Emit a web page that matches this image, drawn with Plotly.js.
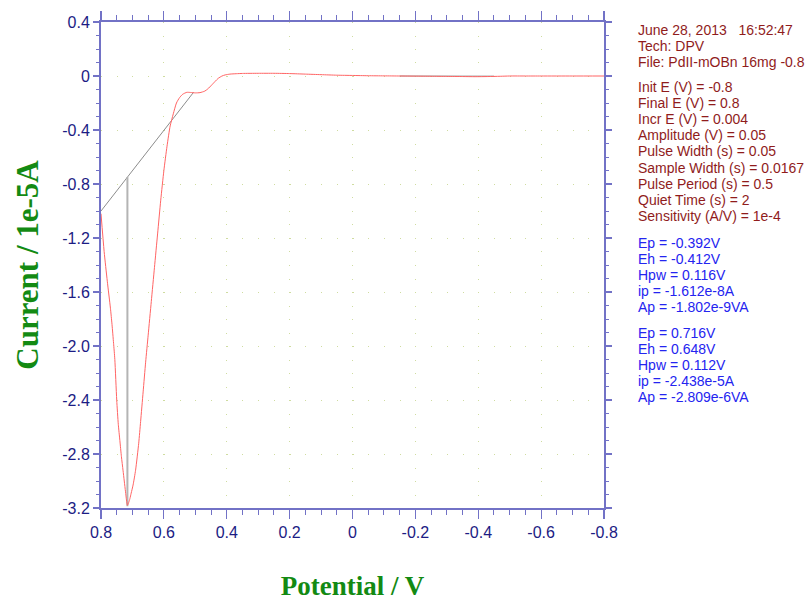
<!DOCTYPE html>
<html>
<head>
<meta charset="utf-8">
<script src="https://cdn.plot.ly/plotly-3.0.1.min.js"></script>
<style>html,body{margin:0;padding:0;background:#fff;}#chart{width:808px;height:601px;}</style>
</head>
<body>
<div id="chart"></div>
<script>
// ---- data ----
const potential = [0.800,0.790,0.780,0.770,0.765,0.760,0.756,0.750,0.745,0.740,0.735,0.730,0.726,0.722,0.719,0.716,0.712,0.708,0.704,0.698,0.690,0.680,0.674,0.666,0.658,0.650,0.640,0.630,0.620,0.610,0.600,0.590,0.580,0.570,0.560,0.550,0.540,0.527,0.515,0.500,0.485,0.470,0.460,0.448,0.437,0.427,0.415,0.405,0.390,0.370,0.350,0.300,0.250,0.200,0.150,0.100,0.050,0.000,-0.050,-0.100,-0.150,-0.200,-0.250,-0.300,-0.350,-0.390,-0.430,-0.470,-0.500,-0.550,-0.600,-0.700,-0.800];
const current = [-1.02,-1.30,-1.52,-1.72,-1.84,-1.98,-2.10,-2.40,-2.58,-2.70,-2.82,-2.92,-3.00,-3.08,-3.14,-3.18,-3.16,-3.13,-3.09,-3.03,-2.92,-2.72,-2.56,-2.34,-2.12,-1.92,-1.67,-1.42,-1.17,-0.92,-0.70,-0.52,-0.37,-0.28,-0.20,-0.16,-0.135,-0.121,-0.122,-0.125,-0.123,-0.112,-0.095,-0.067,-0.040,-0.017,0.000,0.008,0.014,0.017,0.019,0.020,0.020,0.018,0.014,0.010,0.006,0.004,0.002,0.001,0.000,-0.001,-0.002,-0.003,-0.004,-0.005,-0.004,-0.002,0.000,0.000,0.000,0.000,0.000];
// peak baseline and peak height marker (main peak)
const baseX = [0.800, 0.506];
const baseY = [-1.000, -0.122];
const peakX = [0.716, 0.716];
const peakY = [-0.749, -3.187];
// small peak baseline
const base2X = [-0.150, -0.450];
const base2Y = [0.000, -0.001];

const xTickVals = [0.8,0.6,0.4,0.2,0,-0.2,-0.4,-0.6,-0.8];
const xTickText = ['0.8','0.6','0.4','0.2','0','-0.2','-0.4','-0.6','-0.8'];
const yTickVals = [0.4,0,-0.4,-0.8,-1.2,-1.6,-2.0,-2.4,-2.8,-3.2];
const yTickText = ['0.4','0','-0.4','-0.8','-1.2','-1.6','-2.0','-2.4','-2.8','-3.2'];

const headerLines = ['June 28, 2013\u00a0\u00a0\u00a016:52:47','Tech: DPV','File: PdII-mOBn 16mg -0.8'];
const paramLines = ['Init E (V) = -0.8','Final E (V) = 0.8','Incr E (V) = 0.004','Amplitude (V) = 0.05','Pulse Width (s) = 0.05','Sample Width (s) = 0.0167','Pulse Period (s) = 0.5','Quiet Time (s) = 2','Sensitivity (A/V) = 1e-4'];
const peak1Lines = ['Ep = -0.392V','Eh = -0.412V','Hpw = 0.116V','ip = -1.612e-8A','Ap = -1.802e-9VA'];
const peak2Lines = ['Ep = 0.716V','Eh = 0.648V','Hpw = 0.112V','ip = -2.438e-5A','Ap = -2.809e-6VA'];

// ---- layout geometry ----
const W = 808, H = 601;
const L = 101, R = 604, T = 22, B = 508;
const axisCol = '#7272c6';
const tickFont = {family: 'Liberation Sans, Arial, sans-serif', size: 16, color: '#1c1c84'};
const titleFontX = {family: 'Liberation Serif, Times New Roman, serif', size: 27, color: '#138a13', weight: 'bold'};
const titleFontY = {family: 'Liberation Serif, Times New Roman, serif', size: 31, color: '#138a13', weight: 'bold'};

function pxX(p){ return (p - L) / (R - L); }
function pxY(p){ return (B - p) / (B - T); }

const annotations = [];
function addLines(lines, y0, step, color){
  lines.forEach((t, i) => {
    annotations.push({
      text: t, xref: 'paper', yref: 'paper', x: pxX(636), y: pxY(y0 + i*step),
      xanchor: 'left', yanchor: 'middle', showarrow: false,
      font: {family: 'Liberation Sans, Arial, sans-serif', size: 14, color: color}
    });
  });
}
addLines(headerLines, 30, 16.1, '#901c1c');
addLines(paramLines, 87, 16.1, '#901c1c');
addLines(peak1Lines, 243, 16, '#2424f0');
addLines(peak2Lines, 333, 16, '#2424f0');

const traces = [
  {x: baseX, y: baseY, mode: 'lines', line: {color: '#8c8c8c', width: 1}, hoverinfo: 'skip'},
  {x: peakX, y: peakY, mode: 'lines', line: {color: '#b4b4b4', width: 2}, hoverinfo: 'skip'},
  {x: base2X, y: base2Y, mode: 'lines', line: {color: '#9a9a9a', width: 1}, hoverinfo: 'skip'},
  {x: potential, y: current, mode: 'lines', line: {color: '#ff6464', width: 1, shape: 'spline', smoothing: 0.6}, hoverinfo: 'skip'}
];

const layout = {
  width: W, height: H,
  margin: {l: L, r: W - R, t: T, b: H - B, pad: 0},
  paper_bgcolor: '#ffffff', plot_bgcolor: '#ffffff',
  showlegend: false,
  xaxis: {
    range: [0.8, -0.8], tickmode: 'array', tickvals: xTickVals, ticktext: xTickText,
    showline: true, linecolor: axisCol, linewidth: 2, mirror: 'ticks',
    ticks: 'outside', ticklen: 9, tickwidth: 1.2, tickcolor: axisCol,
    tickfont: tickFont, zeroline: false,
    showgrid: true, gridcolor: '#cfdca0', gridwidth: 1, griddash: '1px,12.5px',
    minor: {tickmode: 'linear', tick0: 0, dtick: 0.05, ticks: 'outside', ticklen: 5, tickwidth: 1, tickcolor: axisCol, showgrid: false},
    title: {text: 'Potential / V', font: titleFontX, standoff: 39}
  },
  yaxis: {
    range: [-3.2, 0.4], tickmode: 'array', tickvals: yTickVals, ticktext: yTickText,
    showline: true, linecolor: axisCol, linewidth: 2, mirror: 'ticks',
    ticks: 'outside', ticklen: 6, tickwidth: 1.2, tickcolor: axisCol,
    tickfont: tickFont, zeroline: false,
    showgrid: true, gridcolor: '#cfdca0', gridwidth: 1, griddash: '1px,14.72px',
    minor: {tickmode: 'linear', tick0: 0, dtick: 0.1, ticks: 'outside', ticklen: 3, tickwidth: 1, tickcolor: axisCol, showgrid: false},
    title: {text: 'Current / 1e-5A', font: titleFontY, standoff: 14}
  },
  annotations: annotations
};

Plotly.newPlot('chart', traces, layout, {displayModeBar: false, staticPlot: true});
</script>
</body>
</html>
